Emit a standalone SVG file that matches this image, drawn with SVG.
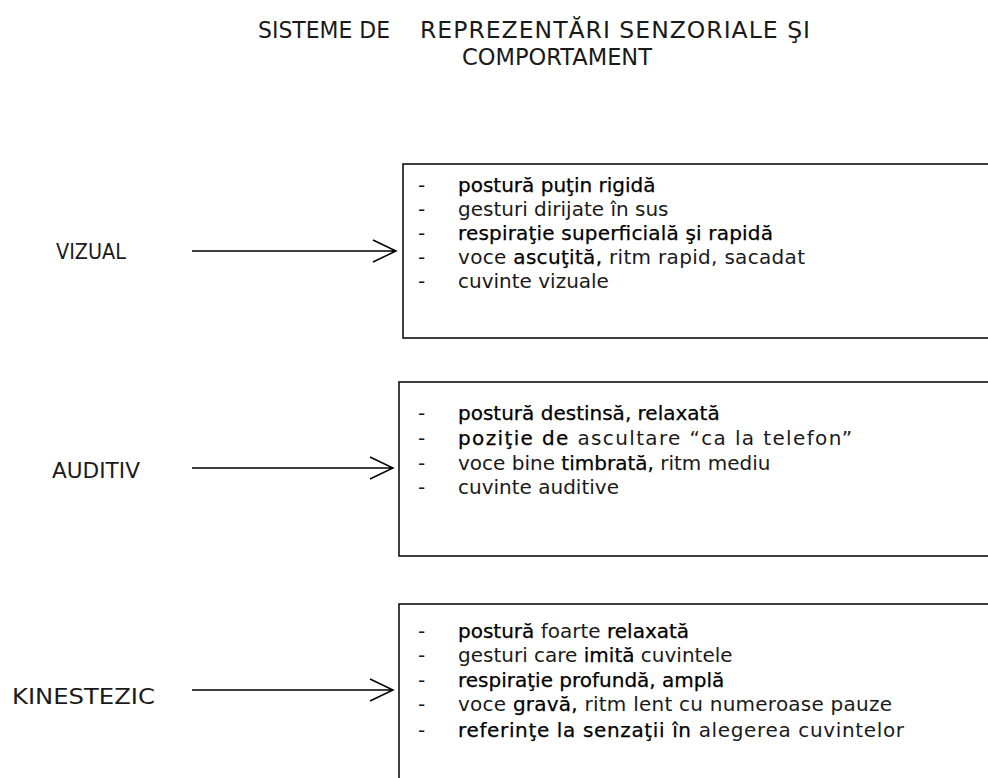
<svg xmlns="http://www.w3.org/2000/svg" width="988" height="778" viewBox="0 0 988 778">
<style>
text{font-family:"DejaVu Sans","Liberation Sans",sans-serif;fill:#1a1a1a}
.t{font-size:23.5px}
.l{font-size:21px}
.b{font-size:20px}
.d{fill:#000;stroke:#000;stroke-width:0.25}
.box{fill:none;stroke:#111;stroke-width:1.6}
.arr{fill:none;stroke:#000;stroke-width:1.5}
</style>
<rect width="988" height="778" fill="#fff"/>
<g id="title">
<text class="t" x="258" y="38" textLength="132" lengthAdjust="spacingAndGlyphs">SISTEME DE</text>
<text class="t" x="420" y="38" textLength="390" lengthAdjust="spacing">REPREZENTĂRI SENZORIALE ŞI</text>
<text class="t" x="462" y="65" textLength="190" lengthAdjust="spacingAndGlyphs">COMPORTAMENT</text>
</g>
<g id="vizual">
<text class="l" x="56" y="259" textLength="70" lengthAdjust="spacingAndGlyphs">VIZUAL</text>
<rect class="box" x="403" y="164" width="620" height="174"/>
<g class="b">
<text x="418" y="192">-</text><text x="458" y="192"><tspan class="d">postură puţin rigidă</tspan></text>
<text x="418" y="216">-</text><text x="458" y="216">gesturi dirijate în sus</text>
<text x="418" y="240">-</text><text x="458" y="240" textLength="315" lengthAdjust="spacing"><tspan class="d">respiraţie superficială şi rapidă</tspan></text>
<text x="418" y="264">-</text><text x="458" y="264" textLength="347" lengthAdjust="spacing">voce <tspan class="d">ascuţită,</tspan> ritm rapid, sacadat</text>
<text x="418" y="288">-</text><text x="458" y="288">cuvinte vizuale</text>
</g>
</g>
<g id="auditiv">
<text class="l" x="52" y="478" textLength="88" lengthAdjust="spacingAndGlyphs">AUDITIV</text>
<rect class="box" x="399" y="382" width="620" height="174"/>
<g class="b">
<text x="418" y="420">-</text><text x="458" y="420"><tspan class="d">postură destinsă, relaxată</tspan></text>
<text x="418" y="445">-</text><text x="458" y="445" textLength="394" lengthAdjust="spacing"><tspan class="d">poziţie de</tspan> ascultare “ca la telefon”</text>
<text x="418" y="470">-</text><text x="458" y="470">voce bine <tspan class="d">timbrată,</tspan> ritm mediu</text>
<text x="418" y="494">-</text><text x="458" y="494">cuvinte auditive</text>
</g>
</g>
<g id="kinestezic">
<text class="l" x="12" y="704" textLength="143" lengthAdjust="spacingAndGlyphs">KINESTEZIC</text>
<rect class="box" x="399" y="604" width="620" height="200"/>
<g class="b">
<text x="418" y="638">-</text><text x="458" y="638"><tspan class="d">postură</tspan> foarte <tspan class="d">relaxată</tspan></text>
<text x="418" y="662">-</text><text x="458" y="662">gesturi care <tspan class="d">imită</tspan> cuvintele</text>
<text x="418" y="687">-</text><text x="458" y="687"><tspan class="d">respiraţie profundă, amplă</tspan></text>
<text x="418" y="711">-</text><text x="458" y="711" textLength="434" lengthAdjust="spacing">voce <tspan class="d">gravă,</tspan> ritm lent cu numeroase pauze</text>
<text x="418" y="737">-</text><text x="458" y="737" textLength="446" lengthAdjust="spacing"><tspan class="d">referinţe la senzaţii în</tspan> alegerea cuvintelor</text>
</g>
</g>
<g id="connectors">
<path class="arr" d="M192,251 H396 M373,240 L396,251 L373,262"/>
<path class="arr" d="M192,468 H393 M370,457 L393,468 L370,479"/>
<path class="arr" d="M192,690 H393 M370,679 L393,690 L370,701"/>
</g>
</svg>
